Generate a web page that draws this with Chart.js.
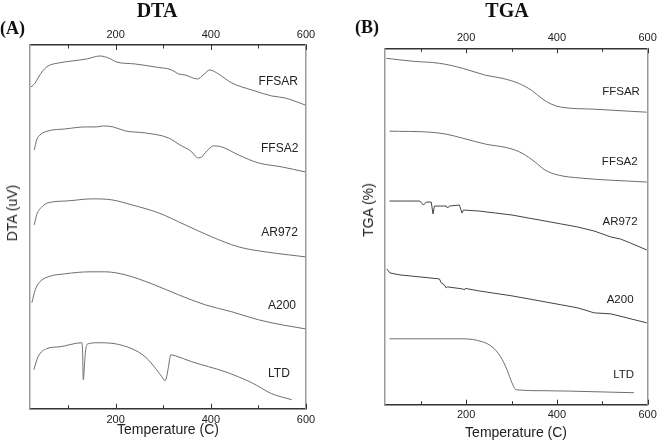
<!DOCTYPE html>
<html>
<head>
<meta charset="utf-8">
<script src="https://cdn.jsdelivr.net/npm/chart.js@4.4.1/dist/chart.umd.min.js"></script>
<style>
  body { margin: 0; background: #fff; }
  #wrap { position: relative; width: 661px; height: 446px; overflow: hidden; }
  canvas { position: absolute; top: 0; }
  .t { position: absolute; color: #111; white-space: nowrap; }
  .big { font: bold 20px "Liberation Serif", "Times New Roman", serif; line-height: 20px; text-align: center; width: 80px; }
  .tag { font: bold 18px "Liberation Serif", "Times New Roman", serif; line-height: 18px; }
  .ytitle { font: 14px "Liberation Sans", Arial, sans-serif; line-height: 14px; transform: translate(-50%, -50%) rotate(-90deg); color: #222; }
</style>
</head>
<body>
<div id="wrap">
  <canvas id="chartDTA" width="330" height="446" style="left:0"></canvas>
  <canvas id="chartTGA" width="331" height="446" style="left:330px"></canvas>
  <div class="t big" style="left:117px; top:0px">DTA</div>
  <div class="t tag" style="left:0px; top:19px">(A)</div>
  <div class="t ytitle" style="left:12px; top:213px">DTA (uV)</div>
  <div class="t big" style="left:467px; top:0px">TGA</div>
  <div class="t tag" style="left:355px; top:18px">(B)</div>
  <div class="t ytitle" style="left:368px; top:210px">TGA (%)</div>
</div>
<script>
// temperature axis (C)
const xTicks = [100, 200, 300, 400, 500, 600]
const sampleNames = ['FFSAR', 'FFSA2', 'AR972', 'A200', 'LTD']

// ---- DTA curves (arbitrary offset units)
const dtaFFSAR_T = [22, 31, 37, 45, 58, 80, 108, 139, 167, 185, 202, 241, 283, 318, 332, 346, 372, 384, 398, 416, 444, 486, 528, 556, 598]
const dtaFFSAR_V = [322, 326, 331, 337, 343, 346, 348, 350, 353, 351, 347, 345, 342, 339, 335, 334, 330, 334, 339, 335, 326, 319, 313, 311, 304]
const dtaFFSA2_T = [29, 34, 41, 58, 94, 136, 160, 174, 195, 220, 262, 311, 335, 360, 367, 374, 381, 388, 396, 405, 423, 458, 500, 549, 598]
const dtaFFSA2_V = [259, 269, 274, 278, 280, 282, 282, 283, 282, 278, 276, 271, 264, 257, 253, 251, 252, 256, 260, 263, 262, 254, 246, 242, 237]
const dtaAR972_T = [29, 34, 45, 58, 100, 150, 192, 234, 290, 346, 402, 458, 514, 563, 598]
const dtaAR972_V = [184, 194, 202, 206, 208, 210, 209, 204, 196, 184, 172, 162, 157, 154, 152]
const dtaA200_T = [24, 31, 41, 58, 94, 146, 178, 220, 276, 332, 388, 444, 500, 549, 598]
const dtaA200_V = [106, 119, 127, 132, 135, 137, 137, 134, 125, 114, 104, 97, 89, 84, 80]
const dtaLTD_T = [28, 37, 55, 83, 129, 130.5, 132, 134.5, 137, 142.5, 163, 199, 234, 262, 286, 297, 304, 308, 311, 316, 325, 360, 430, 486, 528, 570]
const dtaLTD_V = [39, 52, 60, 62, 66, 58, 29, 44, 59, 65, 66, 65, 60, 52, 39, 32, 28, 34, 42, 54, 53, 47, 37, 26, 15, 9]

// ---- TGA curves
const tgaFFSAR_T = [24, 83, 141, 192, 243, 279, 315, 344, 366, 388, 410, 482, 598]
const tgaFFSAR_V = [347, 344, 342, 337, 330, 327, 322, 315, 307, 301, 298, 296, 293]
const tgaFFSA2_T = [31, 120, 156, 192, 243, 294, 323, 352, 374, 403, 453, 598]
const tgaFFSA2_V = [274, 273, 271, 267, 261, 257, 252, 243, 235, 230, 227, 223]
const tgaAR972_T = [31, 69, 98, 106, 112, 123, 127, 130, 156, 159, 163, 185, 191, 194, 228, 265, 301, 337, 374, 410, 446, 482, 519, 540, 562, 598]
const tgaAR972_V = [204, 204, 204, 200, 203, 203, 191, 199, 199, 197, 199, 200, 192, 195, 194, 192, 190, 187, 184, 181, 178, 174, 168, 166, 162, 155]
const tgaA200_T = [25, 32, 54, 98, 141, 145, 152, 156, 159, 192, 196, 198, 228, 301, 374, 410, 446, 482, 519, 598]
const tgaA200_V = [136, 132, 130, 128, 126, 122, 120, 117, 118, 116, 115, 116.5, 114, 109, 103, 100, 97, 92, 91, 82]
const tgaLTD_T = [31, 120, 192, 236, 257, 276, 290, 301, 310, 374, 482, 570]
const tgaLTD_V = [66, 66, 66, 63, 58, 48, 35, 22, 15, 14, 13, 12]

// where the sample names sit (right end, in axis units)
const dtaLabelT = [583, 584, 583, 579, 566]
const dtaLabelV = [327, 260, 176, 103, 35]
const tgaLabelT = [583, 578, 578, 569, 570]
const tgaLabelV = [313, 243, 183, 105, 30]

const sans = '"Liberation Sans", Arial, sans-serif'

function pts(t, v) {
    return t.map((x, i) => ({ x: x, y: v[i] }))
}

function curve(t, v, color, smooth) {
    return {
        data: pts(t, v),
        borderColor: color,
        borderWidth: 1,
        pointRadius: 0,
        fill: false,
        tension: 0,
        cubicInterpolationMode: smooth ? 'monotone' : 'default'
    }
}

// little inward tick marks on top and bottom axes
const innerTicks = {
    id: 'innerTicks',
    afterDraw(chart) {
        const ctx = chart.ctx, a = chart.chartArea
        ctx.save()
        ctx.strokeStyle = '#333'
        ctx.lineWidth = 1
        ;['x', 'x2'].forEach(id => {
            const s = chart.scales[id]
            s.ticks.forEach(t => {
                const px = Math.round(s.getPixelForValue(t.value)) + 0.5
                const len = t.value % 200 === 0 ? 5 : 3.5
                ctx.beginPath()
                if (id === 'x') { ctx.moveTo(px, a.bottom); ctx.lineTo(px, a.bottom - len) }
                else { ctx.moveTo(px, a.top); ctx.lineTo(px, a.top + len) }
                ctx.stroke()
            })
        })
        ctx.restore()
    }
}

const curveLabels = {
    id: 'curveLabels',
    afterDatasetsDraw(chart, args, opts) {
        const ctx = chart.ctx
        ctx.save()
        ctx.font = opts.size + 'px ' + sans
        ctx.fillStyle = '#222'
        ctx.textAlign = 'right'
        ctx.textBaseline = 'middle'
        opts.names.forEach((n, i) => {
            ctx.fillText(n, chart.scales.x.getPixelForValue(opts.t[i]), chart.scales.y.getPixelForValue(opts.v[i]))
        })
        ctx.restore()
    }
}

function xAxis(pos, h, pad, titlePad) {
    return {
        type: 'linear',
        position: pos,
        min: 20,
        max: 600,
        afterBuildTicks: s => { s.ticks = xTicks.map(v => ({ value: v })) },
        afterFit: s => { s.height = h },
        ticks: {
            callback: v => (v % 200 === 0 ? String(v) : ''),
            font: { size: 11, family: sans },
            color: '#222',
            padding: pad,
            maxRotation: 0,
            autoSkip: false
        },
        grid: { display: false, drawTicks: false },
        border: { color: '#333', width: 1.5 },
        title: {
            display: pos === 'bottom',
            text: 'Temperature (C)',
            font: { size: 14, family: sans },
            color: '#222',
            padding: { top: 0, bottom: titlePad }
        }
    }
}

function yAxis(pos, w, max) {
    return {
        type: 'linear',
        position: pos,
        min: 0,
        max: max,
        afterFit: s => { s.width = w },
        ticks: { display: false },
        grid: { display: false, drawTicks: false },
        border: { color: '#9a9a9a', width: 1.5 }
    }
}

function BuildPanel(id, datasets, layout, labels) {
    var ctx = document.getElementById(id)
    return new Chart(ctx, {
        type: 'line',
        data: { datasets: datasets },
        options: {
            responsive: false,
            animation: false,
            devicePixelRatio: 1,
            layout: { padding: 0, autoPadding: false },
            plugins: {
                legend: { display: false },
                tooltip: { enabled: false },
                curveLabels: labels
            },
            scales: {
                x: xAxis('bottom', layout.bottom, layout.bottomPad, layout.titlePad),
                x2: xAxis('top', layout.top, layout.topPad, 0),
                y: yAxis('left', layout.left, layout.ymax),
                yR: yAxis('right', layout.right, layout.ymax)
            }
        },
        plugins: [innerTicks, curveLabels]
    })
}

const grey = '#6e6e6e'

BuildPanel('chartDTA', [
    curve(dtaFFSAR_T, dtaFFSAR_V, grey, true),
    curve(dtaFFSA2_T, dtaFFSA2_V, grey, true),
    curve(dtaAR972_T, dtaAR972_V, grey, true),
    curve(dtaA200_T, dtaA200_V, grey, true),
    curve(dtaLTD_T, dtaLTD_V, grey, true)
], { left: 30, right: 24, top: 45, bottom: 37.3, topPad: 3.4, bottomPad: 4.2, titlePad: 7.6, ymax: 364 },
   { names: sampleNames, t: dtaLabelT, v: dtaLabelV, size: 12 })

BuildPanel('chartTGA', [
    curve(tgaFFSAR_T, tgaFFSAR_V, grey, true),
    curve(tgaFFSA2_T, tgaFFSA2_V, grey, true),
    curve(tgaAR972_T, tgaAR972_V, '#444', false),
    curve(tgaA200_T, tgaA200_V, '#444', false),
    curve(tgaLTD_T, tgaLTD_V, grey, true)
], { left: 54.5, right: 10.3, top: 48.3, bottom: 41.3, topPad: 4.2, bottomPad: 3.2, titlePad: 4.6, ymax: 357 },
   { names: sampleNames, t: tgaLabelT, v: tgaLabelV, size: 11.5 })
</script>
</body>
</html>
